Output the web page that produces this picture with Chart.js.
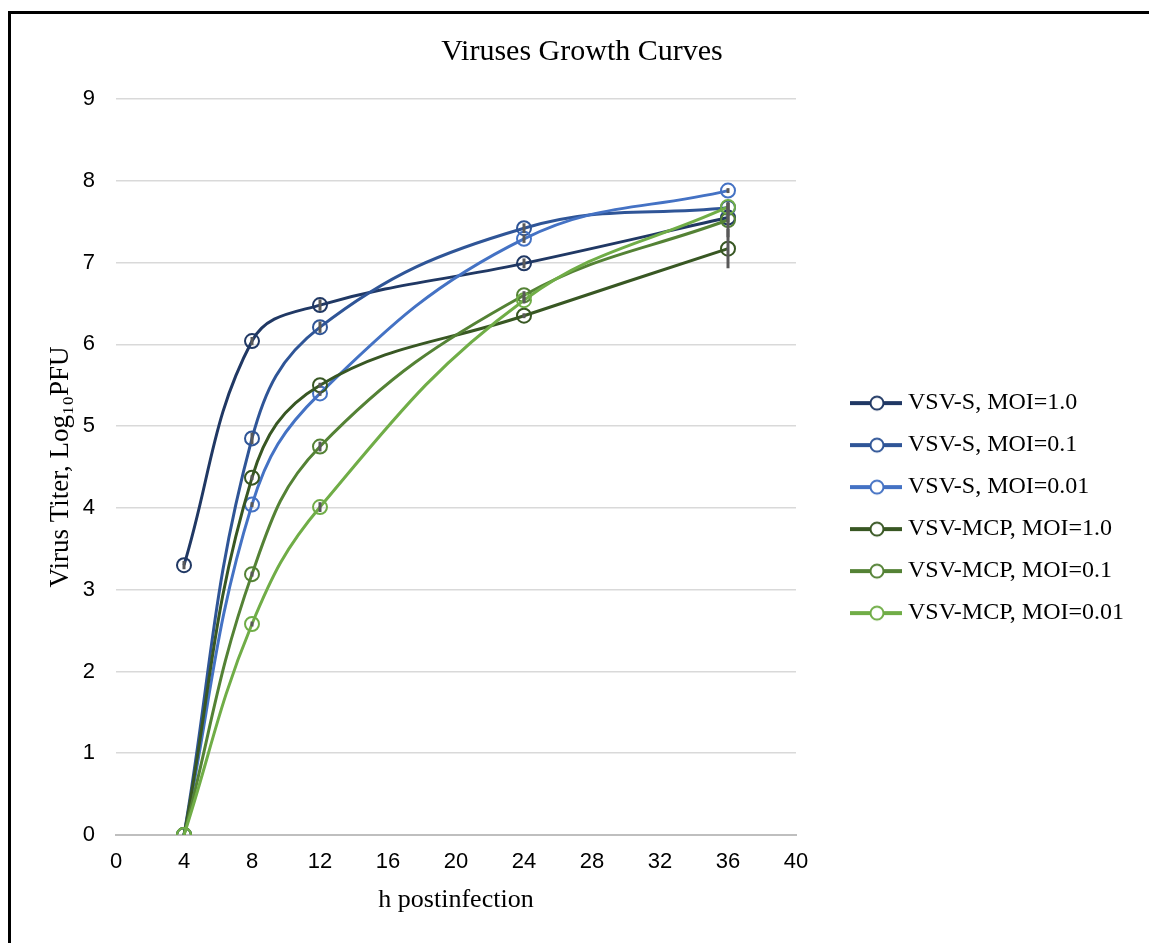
<!DOCTYPE html>
<html>
<head>
<meta charset="utf-8">
<script src="https://cdn.jsdelivr.net/npm/chart.js@4.4.1/dist/chart.umd.min.js"></script>
<style>
  html, body { margin: 0; padding: 0; background: #fff; }
  #wrap { position: relative; width: 1149px; height: 943px; overflow: hidden; }
  #frame { position: absolute; left: 8px; top: 11px; width: 2000px; height: 2000px;
           border-left: 3px solid #000; border-top: 3px solid #000; pointer-events: none; }
</style>
</head>
<body>
<div id="wrap">
  <canvas id="growthChart" width="1149" height="943"></canvas>
  <div id="frame"></div>
</div>
<script>
// hours postinfection
const hours = [4, 8, 12, 24, 36];

// virus titer, log10 PFU
const vsvS_1 = [3.30, 6.04, 6.48, 6.99, 7.55];
const vsvS_01 = [0, 4.85, 6.21, 7.42, 7.67];
const vsvS_001 = [0, 4.04, 5.40, 7.29, 7.88];
const vsvMcp_1 = [0, 4.37, 5.50, 6.35, 7.17];
const vsvMcp_01 = [0, 3.19, 4.75, 6.60, 7.52];
const vsvMcp_001 = [0, 2.58, 4.01, 6.54, 7.68];

// error (+/-)
const errS_1 = [0.05, 0.05, 0.07, 0.06, 0.06];
const errS_01 = [0, 0.07, 0.07, 0.06, 0.07];
const errS_001 = [0, 0.03, 0.03, 0.05, 0.03];
const errMcp_1 = [0, 0.03, 0.03, 0.03, 0.24];
const errMcp_01 = [0, 0.03, 0.06, 0.05, 0.21];
const errMcp_001 = [0, 0.03, 0.06, 0.04, 0.05];

const labels = ['VSV-S, MOI=1.0', 'VSV-S, MOI=0.1', 'VSV-S, MOI=0.01',
                'VSV-MCP, MOI=1.0', 'VSV-MCP, MOI=0.1', 'VSV-MCP, MOI=0.01'];
const series = [vsvS_1, vsvS_01, vsvS_001, vsvMcp_1, vsvMcp_01, vsvMcp_001];
const errors = [errS_1, errS_01, errS_001, errMcp_1, errMcp_01, errMcp_001];
const colors = ['#203864', '#2f5597', '#4472c4', '#385723', '#548235', '#70ad47'];

const xTicks = [0, 4, 8, 12, 16, 20, 24, 28, 32, 36, 40];

// legend sample: line with hollow circle (canvas wider than box so the line sits right)
function legendIcon(color) {
    const c = document.createElement('canvas');
    c.width = 94; c.height = 18;
    const g = c.getContext('2d');
    g.strokeStyle = color;
    g.lineWidth = 4;
    g.beginPath(); g.moveTo(42, 9); g.lineTo(94, 9); g.stroke();
    g.lineWidth = 2;
    g.fillStyle = '#fff';
    g.beginPath(); g.arc(69, 9, 6.5, 0, Math.PI * 2); g.fill(); g.stroke();
    return c;
}
const icons = colors.map(legendIcon);

// keep the legend column wide enough for the full labels
const legendWidth = {
    id: 'legendWidth',
    afterInit(chart) {
        const legend = chart.legend;
        const fit = legend.fit;
        legend.fit = function () { fit.call(this); this.width = 353; };
    }
};

const errorBars = {
    id: 'errorBars',
    afterDatasetsDraw(chart) {
        const {ctx, scales: {x, y}} = chart;
        ctx.save();
        ctx.strokeStyle = '#595959';
        ctx.lineWidth = 3;
        chart.data.datasets.forEach((ds, i) => {
            errors[i].forEach((e, j) => {
                if (!e) return;
                const px = x.getPixelForValue(hours[j]);
                ctx.beginPath();
                ctx.moveTo(px, y.getPixelForValue(series[i][j] - e));
                ctx.lineTo(px, y.getPixelForValue(series[i][j] + e));
                ctx.stroke();
            });
        });
        ctx.restore();
    }
};

const ctx = document.getElementById('growthChart').getContext('2d');
const growthChart = new Chart(ctx, {
    type: 'line',
    data: {
        datasets: series.map((vals, i) => ({
            label: labels[i],
            data: vals.map((v, j) => ({x: hours[j], y: v})),
            borderColor: colors[i],
            backgroundColor: colors[i],
            borderWidth: 3,
            tension: 0.4,
            pointStyle: 'circle',
            pointRadius: 7,
            pointBorderWidth: 2,
            pointBackgroundColor: 'rgba(0,0,0,0)',
            pointBorderColor: colors[i],
            order: series.length - i
        }))
    },
    options: {
        responsive: false,
        animation: false,
        layout: { padding: { left: 15, right: 0, top: 0, bottom: 23 } },
        plugins: {
            title: {
                display: true,
                text: 'Viruses Growth Curves',
                color: '#000',
                font: { family: 'Liberation Serif', size: 30, weight: 'normal' },
                padding: { top: 34, bottom: 29 }
            },
            legend: {
                position: 'right',
                title: { display: true, text: ' ', font: { size: 1 }, padding: { top: 95, bottom: 0 } },
                labels: {
                    usePointStyle: true,
                    pointStyleWidth: 82,
                    padding: 18,
                    color: '#000',
                    font: { family: 'Liberation Serif', size: 24 },
                    sort: (a, b) => a.datasetIndex - b.datasetIndex,
                    generateLabels(chart) {
                        const items = Chart.defaults.plugins.legend.labels.generateLabels(chart);
                        items.forEach(it => { it.pointStyle = icons[it.datasetIndex]; });
                        return items;
                    }
                }
            },
            tooltip: { enabled: false }
        },
        scales: {
            x: {
                type: 'linear',
                min: 0,
                max: 40,
                afterBuildTicks(scale) { scale.ticks = xTicks.map(v => ({value: v})); },
                afterFit(scale) { scale.height = 85; },
                grid: { display: false, drawTicks: false },
                border: { color: '#bfbfbf', width: 2 },
                ticks: { color: '#000', padding: 14, font: { family: 'Liberation Sans', size: 22 } },
                title: {
                    display: true,
                    text: 'h postinfection',
                    color: '#000',
                    font: { family: 'Liberation Serif', size: 26 }
                }
            },
            y: {
                min: 0,
                max: 9,
                afterFit(scale) { scale.width = 101; },
                grid: { color: '#d9d9d9', lineWidth: 1.5, drawTicks: false },
                border: { display: false },
                ticks: { stepSize: 1, color: '#000', padding: 21, font: { family: 'Liberation Sans', size: 22 } },
                title: {
                    display: true,
                    text: 'Virus Titer, Log\u2081\u2080PFU',
                    color: '#000',
                    padding: { top: 30, bottom: 4 },
                    font: { family: 'Liberation Serif', size: 27 }
                }
            }
        }
    },
    plugins: [errorBars, legendWidth]
});
</script>
</body>
</html>
